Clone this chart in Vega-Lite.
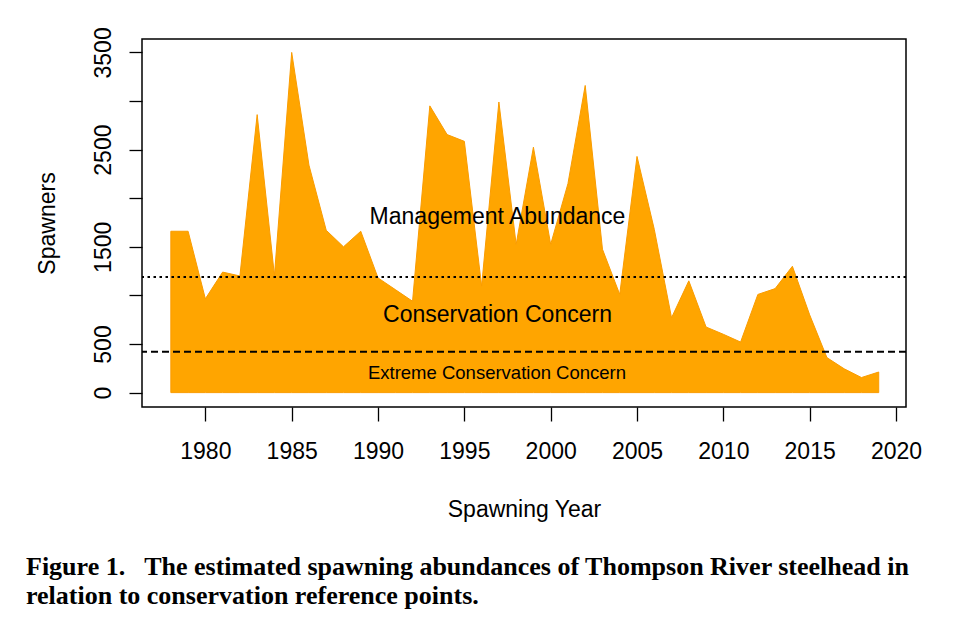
{
  "$schema": "https://vega.github.io/schema/vega-lite/v6.json",
  "autosize": "none",
  "width": 764,
  "height": 368,
  "padding": {"left": 142, "top": 39, "right": 54, "bottom": 233},
  "background": "white",
  "datasets": {
    "spawners": [
      {"year": 1978, "spawners": 1660},
      {"year": 1979, "spawners": 1660},
      {"year": 1980, "spawners": 965},
      {"year": 1981, "spawners": 1240},
      {"year": 1982, "spawners": 1200},
      {"year": 1983, "spawners": 2860},
      {"year": 1984, "spawners": 1205},
      {"year": 1985, "spawners": 3500},
      {"year": 1986, "spawners": 2340},
      {"year": 1987, "spawners": 1670},
      {"year": 1988, "spawners": 1500},
      {"year": 1989, "spawners": 1660},
      {"year": 1990, "spawners": 1180},
      {"year": 1991, "spawners": 1060},
      {"year": 1992, "spawners": 940},
      {"year": 1993, "spawners": 2950},
      {"year": 1994, "spawners": 2655},
      {"year": 1995, "spawners": 2585},
      {"year": 1996, "spawners": 1095},
      {"year": 1997, "spawners": 2990},
      {"year": 1998, "spawners": 1525},
      {"year": 1999, "spawners": 2525},
      {"year": 2000, "spawners": 1525},
      {"year": 2001, "spawners": 2150},
      {"year": 2002, "spawners": 3160},
      {"year": 2003, "spawners": 1475},
      {"year": 2004, "spawners": 1010},
      {"year": 2005, "spawners": 2430},
      {"year": 2006, "spawners": 1680},
      {"year": 2007, "spawners": 770},
      {"year": 2008, "spawners": 1150},
      {"year": 2009, "spawners": 675},
      {"year": 2010, "spawners": 600},
      {"year": 2011, "spawners": 520},
      {"year": 2012, "spawners": 1010},
      {"year": 2013, "spawners": 1070},
      {"year": 2014, "spawners": 1300},
      {"year": 2015, "spawners": 800},
      {"year": 2016, "spawners": 360},
      {"year": 2017, "spawners": 245},
      {"year": 2018, "spawners": 155},
      {"year": 2019, "spawners": 212}
    ],
    "zones": [
      {"year": 1996.92, "spawners": 1737, "label": "Management Abundance", "size": 23},
      {"year": 1996.92, "spawners": 726, "label": "Conservation Concern", "size": 23},
      {"year": 1996.89, "spawners": 144, "label": "Extreme Conservation Concern", "size": 18.5}
    ],
    "refs": [
      {"level": 1190, "kind": "Management abundance threshold"},
      {"level": 420, "kind": "Extreme conservation threshold"}
    ]
  },
  "title": {
    "text": [
      "Figure 1.\u00a0\u00a0 The estimated spawning abundances of Thompson River steelhead in",
      "relation to conservation reference points."
    ],
    "orient": "bottom",
    "anchor": "start",
    "frame": "group",
    "dx": -116,
    "offset": 33,
    "font": "Liberation Serif",
    "fontWeight": "bold",
    "fontSize": 26,
    "lineHeight": 29,
    "color": "black",
    "baseline": "top"
  },
  "layer": [
    {
      "data": {"name": "spawners"},
      "mark": {"type": "area", "fill": "#FFA500", "stroke": "#FA9C00", "strokeWidth": 1, "fillOpacity": 1},
      "encoding": {
        "x": {
          "field": "year",
          "type": "quantitative",
          "scale": {"domain": [1976.33, 2020.58], "nice": false, "zero": false},
          "axis": {
            "values": [1980, 1985, 1990, 1995, 2000, 2005, 2010, 2015, 2020],
            "format": "d",
            "grid": false,
            "domain": false,
            "tickSize": 14,
            "tickColor": "black",
            "tickWidth": 1.3,
            "labelFont": "Liberation Sans",
            "labelFontSize": 23,
            "labelColor": "black",
            "labelBaseline": "alphabetic",
            "labelPadding": 37,
            "labelFlush": false,
            "labelOverlap": false,
            "title": "Spawning Year",
            "titleFont": "Liberation Sans",
            "titleFontSize": 23,
            "titleFontWeight": "normal",
            "titleColor": "black",
            "titleBaseline": "alphabetic",
            "titleY": 109
          }
        },
        "y": {
          "field": "spawners",
          "type": "quantitative",
          "scale": {"domain": [-148, 3638], "nice": false, "zero": false},
          "axis": {
            "values": [0, 500, 1000, 1500, 2000, 2500, 3000, 3500],
            "labelExpr": "datum.value == 1000 || datum.value == 2000 || datum.value == 3000 ? '' : datum.label",
            "format": "d",
            "grid": false,
            "domain": false,
            "tickSize": 13,
            "tickColor": "black",
            "tickWidth": 1.3,
            "labelAngle": -90,
            "labelAlign": "center",
            "labelBaseline": "alphabetic",
            "labelPadding": 19,
            "labelFont": "Liberation Sans",
            "labelFontSize": 23,
            "labelColor": "black",
            "labelOverlap": false,
            "labelFlush": false,
            "title": "Spawners",
            "titleFont": "Liberation Sans",
            "titleFontSize": 23,
            "titleFontWeight": "normal",
            "titleColor": "black",
            "titleAngle": -90,
            "titleAlign": "center",
            "titleBaseline": "alphabetic",
            "titleX": -88,
            "titleY": 184
          }
        },
        "y2": {"datum": 0}
      }
    },
    {
      "data": {"name": "refs"},
      "transform": [{"filter": "datum.level > 1000"}],
      "mark": {"type": "rule", "color": "black", "strokeWidth": 2, "strokeDash": [2.5, 3.5]},
      "encoding": {"y": {"field": "level", "type": "quantitative"}}
    },
    {
      "data": {"name": "refs"},
      "transform": [{"filter": "datum.level < 1000"}],
      "mark": {"type": "rule", "color": "black", "strokeWidth": 2, "strokeDash": [7, 4]},
      "encoding": {"y": {"field": "level", "type": "quantitative"}}
    },
    {
      "data": {"name": "zones"},
      "mark": {"type": "text", "font": "Liberation Sans", "color": "black", "align": "center", "baseline": "alphabetic"},
      "encoding": {
        "x": {"field": "year", "type": "quantitative"},
        "y": {"field": "spawners", "type": "quantitative"},
        "text": {"field": "label"},
        "size": {"field": "size", "type": "quantitative", "scale": null}
      }
    }
  ],
  "config": {
    "view": {"stroke": "black", "strokeWidth": 1.5}
  }
}
